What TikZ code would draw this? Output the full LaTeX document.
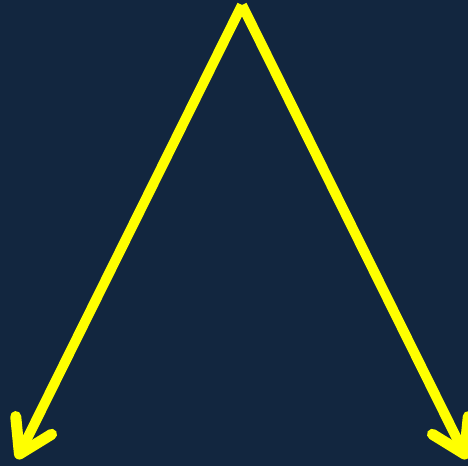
\documentclass[tikz,border=0pt]{standalone}
\usetikzlibrary{arrows.meta}
\definecolor{bg}{HTML}{12263F}
\definecolor{yel}{HTML}{FFFF00}
\begin{document}
\begin{tikzpicture}[x=1pt,y=1pt,
  arrowline/.style={draw=yel,line width=10pt,-{Straight Barb[length=32pt,width=40pt,round,line width=11pt]}}]
\fill[bg] (0,0) rectangle (468,466);
\useasboundingbox (0,0) rectangle (468,466);
\coordinate (top) at (242,461);
\coordinate (left) at (17,7);
\coordinate (right) at (467,7);
\draw[arrowline] (top) -- (left);
\draw[arrowline] (top) -- (right);
\end{tikzpicture}
\end{document}
